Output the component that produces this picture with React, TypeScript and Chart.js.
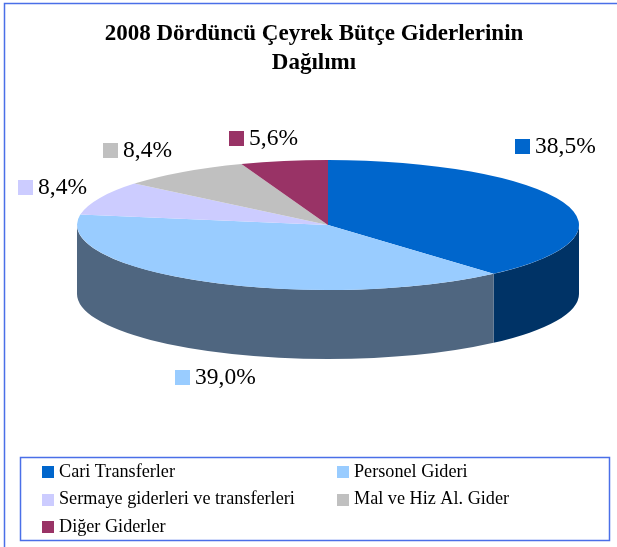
import React, { useEffect, useRef } from "react";
import { Chart, registerables } from "chart.js";

Chart.register(...registerables);

const titleLines = ["2008 Dördüncü Çeyrek Bütçe Giderlerinin", "Dağılımı"];
const categories = ["Cari Transferler", "Personel Gideri", "Sermaye giderleri ve transferleri", "Mal ve Hiz Al. Gider", "Diğer Giderler"];
const shares = [38.5, 39.0, 8.4, 8.4, 5.6];
const shareLabels = ["38,5%", "39,0%", "8,4%", "8,4%", "5,6%"];
const topColors = ["#0066CC", "#99CCFF", "#CCCCFF", "#C0C0C0", "#993366"];
const sideColors = ["#003366", "#4F6680", "#66667F", "#606060", "#4D1A33"];
// offset of each value label from the rim point at the middle of its slice
const labelOffsets = [[-48, -55], [-31, 96], [-81, -10], [-80, -21], [-55, -22]];

const SERIF = '"Liberation Serif", "Times New Roman", serif';
const PIE = { cx: 328, cy: 225, rx: 251, ry: 65, depth: 69 };
const LEGEND = { x: 20, y: 457, w: 589, h: 83, cols: [42, 337], firstRow: 472, rowGap: 27.5 };
const BORDER = "#4A6FE8";

function squash(ctx: CanvasRenderingContext2D, arc: any) {
  const r = arc.outerRadius;
  ctx.translate(PIE.cx, PIE.cy);
  ctx.scale(PIE.rx / r, PIE.ry / r);
  ctx.translate(-arc.x, -arc.y);
}

const pie3d = {
  id: "pie3d",
  beforeDraw(chart: any) {
    const { ctx } = chart;
    ctx.save();
    ctx.strokeStyle = BORDER;
    ctx.lineWidth = 1.5;
    ctx.beginPath();
    ctx.moveTo(4.5, chart.height);
    ctx.lineTo(4.5, 3.5);
    ctx.lineTo(chart.width, 3.5);
    ctx.stroke();
    ctx.restore();
  },
  beforeDatasetsDraw(chart: any) {
    const { ctx } = chart;
    const arcs = chart.getDatasetMeta(0).data;
    const sides: Array<[number, number, number]> = [];
    arcs.forEach((arc: any, i: number) => {
      // keep only the part of the slice that faces the viewer (0..PI on canvas)
      for (const shift of [0, -2 * Math.PI]) {
        const a0 = Math.max(arc.startAngle + shift, 0);
        const a1 = Math.min(arc.endAngle + shift, Math.PI);
        if (a1 > a0) sides.push([a0, a1, i]);
      }
    });
    ctx.save();
    for (const [a0, a1, i] of sides) {
      ctx.fillStyle = sideColors[i];
      ctx.beginPath();
      ctx.ellipse(PIE.cx, PIE.cy, PIE.rx, PIE.ry, 0, a0, a1);
      ctx.ellipse(PIE.cx, PIE.cy + PIE.depth, PIE.rx, PIE.ry, 0, a1, a0, true);
      ctx.closePath();
      ctx.fill();
    }
    ctx.restore();
    ctx.save();
    squash(ctx, arcs[0]);
  },
  afterDatasetsDraw(chart: any) {
    const { ctx } = chart;
    ctx.restore();
    const arcs = chart.getDatasetMeta(0).data;

    ctx.save();
    ctx.textBaseline = "middle";
    ctx.textAlign = "left";
    ctx.fillStyle = "#000";
    ctx.font = `23.5px ${SERIF}`;
    arcs.forEach((arc: any, i: number) => {
      const mid = (arc.startAngle + arc.endAngle) / 2;
      const x = PIE.cx + PIE.rx * Math.cos(mid) + labelOffsets[i][0];
      const y = PIE.cy + PIE.ry * Math.sin(mid) + labelOffsets[i][1];
      ctx.fillStyle = topColors[i];
      ctx.fillRect(Math.round(x), Math.round(y) - 8, 15, 15);
      ctx.fillStyle = "#000";
      ctx.fillText(shareLabels[i], Math.round(x) + 20, Math.round(y));
    });

    ctx.strokeStyle = BORDER;
    ctx.lineWidth = 1.5;
    ctx.strokeRect(LEGEND.x + 0.5, LEGEND.y + 0.5, LEGEND.w, LEGEND.h);
    ctx.font = `18.2px ${SERIF}`;
    categories.forEach((name, i) => {
      const x = LEGEND.cols[i % 2];
      const y = LEGEND.firstRow + Math.floor(i / 2) * LEGEND.rowGap;
      ctx.fillStyle = topColors[i];
      ctx.fillRect(x, Math.round(y) - 6, 12, 12);
      ctx.fillStyle = "#000";
      ctx.fillText(name, x + 17, y);
    });
    ctx.restore();
  },
};

export default function App() {
  const ref = useRef<HTMLCanvasElement>(null);
  useEffect(() => {
    const chart = new Chart(ref.current!, {
      type: "pie",
      data: {
        labels: categories,
        datasets: [{ data: shares, backgroundColor: topColors, borderWidth: 0 }],
      },
      options: {
        animation: false,
        responsive: false,
        layout: { padding: { left: 11, right: 0, top: 0, bottom: 0 } },
        plugins: {
          legend: { display: false },
          tooltip: { enabled: false },
          title: {
            display: true,
            text: titleLines,
            color: "#000",
            font: { family: SERIF, size: 23, weight: "bold", lineHeight: 1.26 },
            padding: { top: 20, bottom: 0 },
          },
        },
      },
      plugins: [pie3d],
    });
    return () => chart.destroy();
  }, []);
  return (
    <div style={{ position: "absolute", left: 0, top: 0, width: 617, height: 547, background: "#fff" }}>
      <canvas ref={ref} width={617} height={547} style={{ display: "block" }} />
    </div>
  );
}
